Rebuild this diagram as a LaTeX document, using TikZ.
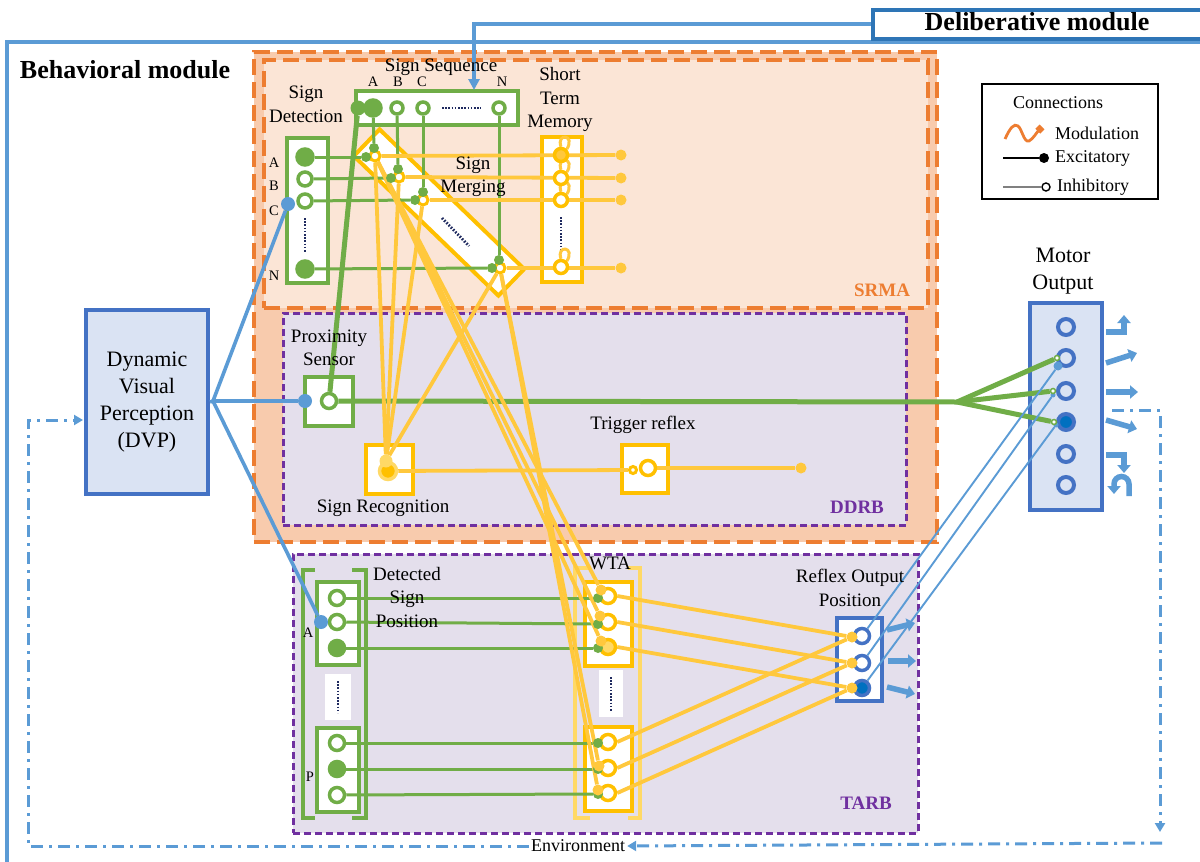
\documentclass[tikz,border=0pt]{standalone}
\usepackage{fontspec}
\setmainfont{Liberation Serif}
\usetikzlibrary{arrows.meta,calc}
\definecolor{gG}{HTML}{70AD47}
\definecolor{yL}{HTML}{FFC83D}
\definecolor{yB}{HTML}{FFC000}
\definecolor{yP}{HTML}{FFD966}
\definecolor{bL}{HTML}{5B9BD5}
\definecolor{bB}{HTML}{4472C4}
\definecolor{bD}{HTML}{2E75B6}
\definecolor{bF}{HTML}{0070C0}
\definecolor{bFill}{HTML}{DAE3F3}
\definecolor{pP}{HTML}{7030A0}
\definecolor{oO}{HTML}{ED7D31}
\definecolor{oF}{HTML}{F8CBAD}
\definecolor{oL}{HTML}{FBE5D6}
\definecolor{lav}{HTML}{E4DFEC}
\definecolor{navyc}{HTML}{1F2A5F}
\pgfdeclarelayer{bg}
\pgfdeclarelayer{mid}
\pgfsetlayers{bg,mid,main}
\tikzset{
  lbl/.style={font=\fontsize{19}{23.5}\selectfont, align=center, inner sep=0},
  biglbl/.style={font=\fontsize{22}{27}\selectfont, align=center, inner sep=0},
  sml/.style={font=\fontsize{14.5}{16}\selectfont, inner sep=0},
  legt/.style={font=\fontsize{18}{20}\selectfont, inner sep=0, anchor=west},
  tagt/.style={font=\fontsize{19}{21}\selectfont\bfseries, inner sep=0},
  modt/.style={font=\fontsize{26}{29}\selectfont\bfseries, inner sep=0},
  area/.style={rectangle, inner sep=0, anchor=north west},
  odash/.style={draw=oO, line width=3.5, dash pattern=on 16pt off 7pt},
  pdash/.style={draw=pP, line width=2.6, dash pattern=on 7pt off 4pt},
  gbox/.style={rectangle, draw=gG, line width=4, fill=white, inner sep=0},
  ybox/.style={rectangle, draw=yB, line width=4, fill=white, inner sep=0},
  bluebox/.style={rectangle, draw=bB, line width=4, fill=white, inner sep=0},
  wbox/.style={rectangle, fill=white, inner sep=0},
  gc/.style={circle, draw=gG, line width=3.5, fill=white, minimum size=14, inner sep=0},
  gcf/.style={gc, fill=gG},
  yc/.style={circle, draw=yB, line width=3.5, fill=white, minimum size=14, inner sep=0},
  ycf/.style={yc, fill=yP},
  bc/.style={circle, draw=bB, line width=3.5, fill=white, minimum size=15, inner sep=0},
  bcf/.style={bc, fill=bF},
  gdot/.style={circle, fill=gG, minimum size=10, inner sep=0},
  ydot/.style={circle, fill=yL, minimum size=11, inner sep=0},
  bdot/.style={circle, fill=bL, minimum size=14, inner sep=0},
  gl/.style={draw=gG, line width=3},
  gthick/.style={draw=gG, line width=5},
  yl/.style={draw=yL, line width=3.8},
  bl/.style={draw=bL, line width=3.6},
  bthin/.style={draw=bL, line width=1.9},
  dd/.style={draw=bL, line width=3, dash pattern=on 12pt off 6pt on 3pt off 6pt},
  dotv/.style={draw=navyc, line width=2.8, dash pattern=on 1.6pt off 1.6pt},
  barrow/.style={draw=bL, line width=5.5, -{Triangle[length=8,width=13]}},
  brk/.style={line width=3.5},
}
\begin{document}
\begin{tikzpicture}[x=1pt,y=-1pt]
\useasboundingbox (0,0) rectangle (1200,862);
\begin{pgfonlayer}{bg}
\fill[white] (0,0) rectangle (1200,862);
\draw[bL, line width=3.5] (1210,42) -- (7,42) -- (7,870);
\node[area, fill=oF, odash, minimum width=683, minimum height=490] (orreg) at (252,50) {};
\node[area, fill=oL, odash, minimum width=664, minimum height=248] (srma) at (262,58) {};
\node[area, fill=lav, pdash, minimum width=623, minimum height=212] (ddrb) at (282,312) {};
\node[area, fill=lav, pdash, minimum width=625, minimum height=279] (tarb) at (292,553) {};
\node[area, draw=bD, line width=3.5, fill=white, minimum width=340, minimum height=29] (delib) at (871,8) {};
\node[draw=bB, line width=4, fill=bFill, minimum width=122, minimum height=184, biglbl] (dvp) at (147,402) {Dynamic\\Visual\\Perception\\(DVP)};
\node[draw=black, line width=2.8, fill=white, minimum width=176, minimum height=115, inner sep=0] (leg) at (1070,141.5) {};
% component boxes
\node[gbox, minimum width=41, minimum height=145] (sd) at (307.5,210.5) {};
\node[gbox, minimum width=162, minimum height=34] (ss) at (437,108) {};
\node[draw=yB, line width=4, fill=white, minimum width=201, minimum height=37, rotate=-44, inner sep=0] (smb) at (439,212.5) {};
\node[ybox, minimum width=40, minimum height=145] (stm) at (562,209.5) {};
\node[gbox, minimum width=48, minimum height=49] (px) at (329,401.5) {};
\node[ybox, minimum width=47, minimum height=49] (sr) at (389.5,469.5) {};
\node[ybox, minimum width=46, minimum height=48] (tr) at (645,469) {};
\node[bluebox, fill=bFill, minimum width=72, minimum height=207] (mo) at (1066,406.5) {};
\node[bluebox, minimum width=45, minimum height=83] (ro) at (859.5,659.5) {};
% brackets
\draw[yP, brk] (590,568) -| (575,818) -- (590,818);
\draw[yP, brk] (628,568) -| (640,818) -- (628,818);
\draw[gG, brk] (315,570) -| (303,818) -- (315,818);
\draw[gG, brk] (352,570) -| (366,818) -- (352,818);
\node[ybox, minimum width=47, minimum height=84] (wt1) at (608.5,624) {};
\node[ybox, minimum width=47, minimum height=84] (wt2) at (608.5,769) {};
\node[wbox, minimum width=24, minimum height=47] (wtd) at (611,693.5) {};
\node[gbox, minimum width=42, minimum height=83] (dp1) at (338,623.5) {};
\node[gbox, minimum width=42, minimum height=84] (dp2) at (338,770) {};
\node[wbox, minimum width=26, minimum height=46] (dpd) at (338,697) {};
% dotted ellipses
\draw[dotv] (305,218) -- (305,253);
\draw[dotv] (442,108) -- (481,108);
\draw[dotv] (442,218) -- (469,246);
\draw[dotv] (561,217) -- (561,252);
\draw[dotv] (611,677) -- (611,712);
\draw[dotv] (338,681) -- (338,713);
\end{pgfonlayer}

% ---------- circles and dots ----------
% sign detection
\node[gcf, minimum size=16] (sdA) at (305,157) {};
\node[gc] (sdB) at (305,179) {};
\node[gc] (sdC) at (305,201) {};
\node[gcf, minimum size=16] (sdN) at (305,269) {};
\node[bdot] (sdb) at (288,204) {};
% sign sequence
\node[gcf, minimum size=16] (ssA) at (373,108) {};
\node[gc, minimum size=12] (ssB) at (397,108) {};
\node[gc, minimum size=12] (ssC) at (423,108) {};
\node[gc, minimum size=12] (ssN) at (499,108) {};
\node[gdot, minimum size=15] (ssL) at (358,108) {};
\coordinate (ssin) at (474,90);
% sign merging
\node[yc, minimum size=10, line width=3] (smA) at (375,156) {};
\node[yc, minimum size=10, line width=3] (smB) at (399,177) {};
\node[yc, minimum size=10, line width=3] (smC) at (423,200) {};
\node[yc, minimum size=10, line width=3] (smN) at (500,268) {};
\node[gdot] (gA1) at (374,148) {};
\node[gdot] (gA2) at (366,157) {};
\node[gdot] (gB1) at (398,169) {};
\node[gdot] (gB2) at (391,178) {};
\node[gdot] (gC1) at (423,192) {};
\node[gdot] (gC2) at (415,200) {};
\node[gdot] (gN1) at (499,260) {};
\node[gdot] (gN2) at (492,268) {};
% short term memory
\node[yc, fill=yL, minimum size=13] (stA) at (561,155) {};
\node[yc, minimum size=13] (stB) at (561,178) {};
\node[yc, minimum size=13] (stC) at (561,200) {};
\node[yc, minimum size=13] (stN) at (561,267) {};
\node[ydot] (yeA) at (621,155) {};
\node[ydot] (yeB) at (621,178) {};
\node[ydot] (yeC) at (621,200) {};
\node[ydot] (yeN) at (621,268) {};
% proximity
\node[gc, minimum size=15] (pxc) at (329,401) {};
\node[bdot] (pxb) at (305,401) {};
\coordinate (dvpj) at (213,401);
\coordinate (fan) at (957,402);
% sign recognition, trigger
\node[circle, fill=yB, draw=yP, line width=3.5, minimum size=17, inner sep=0] (src) at (388,471) {};
\node[ydot, fill=yP, minimum size=13] (srin) at (386,461) {};
\node[yc, minimum size=7, line width=3] (trs) at (633,470) {};
\node[yc, minimum size=15] (trb) at (648,468) {};
\node[ydot] (tre) at (801,468) {};
% WTA
\node[yc, minimum size=15] (wc1) at (608,596) {};
\node[yc, minimum size=15] (wc2) at (608,622) {};
\node[ycf, minimum size=15] (wc3) at (608,647) {};
\node[yc, minimum size=15] (wc4) at (608,742) {};
\node[yc, minimum size=15] (wc5) at (608,768) {};
\node[yc, minimum size=15] (wc6) at (608,793) {};
\node[gdot] (wg1) at (598,598) {};
\node[gdot] (wg2) at (598,624) {};
\node[gdot] (wg3) at (598,648) {};
\node[gdot] (wg4) at (598,743) {};
\node[gdot] (wg5) at (598,769) {};
\node[gdot] (wg6) at (598,794) {};
\node[ydot] (wy1) at (601,590) {};
\node[ydot] (wy2) at (600,616) {};
\node[ydot] (wy3) at (601,641) {};
\node[ydot] (wy5) at (599,766) {};
\node[ydot] (wy6) at (598,790) {};
% detected sign position
\node[gc, minimum size=15] (dc1) at (337,598) {};
\node[gc, minimum size=15] (dc2) at (337,622) {};
\node[gcf, minimum size=15] (dc3) at (337,648) {};
\node[gc, minimum size=15] (dc4) at (337,743) {};
\node[gcf, minimum size=15] (dc5) at (337,769) {};
\node[gc, minimum size=15] (dc6) at (337,795) {};
\node[bdot] (dpb) at (321,622) {};
% reflex output
\node[bc] (rc1) at (862,636) {};
\node[bc] (rc2) at (862,663) {};
\node[bcf] (rc3) at (862,688) {};
\node[ydot] (ry1) at (852,637) {};
\node[ydot] (ry2) at (852,663) {};
\node[ydot] (ry3) at (852,688) {};
% motor output
\node[bc, fill=bFill, minimum size=16, line width=4] (mc1) at (1066,327) {};
\node[bc, fill=bFill, minimum size=16, line width=4] (mc2) at (1066,358) {};
\node[bc, fill=bFill, minimum size=16, line width=4] (mc3) at (1066,391) {};
\node[bcf, minimum size=16, line width=4] (mc4) at (1066,422) {};
\node[bc, fill=bFill, minimum size=16, line width=4] (mc5) at (1066,454) {};
\node[bc, fill=bFill, minimum size=16, line width=4] (mc6) at (1066,485) {};
\node[bdot, minimum size=9] (mb2) at (1058,366) {};
\node[bdot, minimum size=5] (mb3) at (1053,395) {};
\node[bdot, minimum size=5] (mb4) at (1056,425) {};
\node[circle, draw=gG, fill=white, line width=1.5, minimum size=5, inner sep=0] (mg2) at (1057,358) {};
\node[circle, draw=gG, fill=white, line width=1.5, minimum size=5, inner sep=0] (mg3) at (1053,391) {};
\node[circle, draw=gG, fill=white, line width=1.5, minimum size=5, inner sep=0] (mg4) at (1054,422) {};

% ---------- connectors ----------
\begin{pgfonlayer}{mid}
\draw[bl] (dvp.east) -- (dvpj);
\draw[bl] (dvpj) -- (sdb);
\draw[bl] (dvpj) -- (pxb);
\draw[bl] (dvpj) -- (dpb);
\draw[bl, -{Triangle[length=11,width=11]}] (delib.west) -| (ssin);
\draw[gl] (sdA) -- (gA2);
\draw[gl] (sdB) -- (gB2);
\draw[gl] (sdC) -- (gC2);
\draw[gl] (sdN) -- (gN2);
\draw[gl] (ssA) -- (gA1);
\draw[gl] (ssB) -- (gB1);
\draw[gl] (ssC) -- (gC1);
\draw[gl] (ssN) -- (gN1);
\draw[gthick] (ssL) -- (pxc);
\draw[gthick] (pxc) -- (fan);
\draw[gthick] (fan) -- (mg2);
\draw[gthick] (fan) -- (mg3);
\draw[gthick] (fan) -- (mg4);
\draw[gl] (dc1) -- (wg1);
\draw[gl] (dc2) -- (wg2);
\draw[gl] (dc3) -- (wg3);
\draw[gl] (dc4) -- (wg4);
\draw[gl] (dc5) -- (wg5);
\draw[gl] (dc6) -- (wg6);
\draw[yl] (smA) -- (yeA);
\draw[yl] (smB) -- (yeB);
\draw[yl] (smC) -- (yeC);
\draw[yl] (smN) -- (yeN);
\foreach \s in {stA,stB,stC,stN}
  \draw[yl, line width=3] (\s.north) .. controls +(-5,-14) and +(9,-15) .. (\s.north east);
\draw[yl] (smA) -- (srin);
\draw[yl] (smB) -- (srin);
\draw[yl] (smC) -- (srin);
\draw[yl] (smN) -- (srin);
\draw[yl] (smA) -- (wy1);
\draw[yl] (smA) -- (wy2);
\draw[yl] (smA) -- (wy3);
\draw[yl] (smN) -- (wy5);
\draw[yl] (smN) -- (wy6);
\draw[yl] (src) -- (trs);
\draw[yl] (trb) -- (tre);
\draw[yl] (wc1.east) -- (ry1);
\draw[yl] (wc2.east) -- (ry2);
\draw[yl] (wc3.east) -- (ry3);
\draw[yl] (wc4.east) -- (ry1);
\draw[yl] (wc5.east) -- (ry2);
\draw[yl] (wc6.east) -- (ry3);
\draw[bthin] (rc1) -- (mb2);
\draw[bthin] (rc2) -- (mb3);
\draw[bthin] (rc3) -- (mb4);
\end{pgfonlayer}

% environment loop
\node[font=\fontsize{18}{20}\selectfont, inner sep=2] (env) at (578,846) {Environment};
\coordinate (dd1) at (1112,410);
\coordinate (dvpin) at (83,420);
\draw[dd, -{Triangle[length=9,width=10]}] (dd1) -| (1160,832);
\draw[dd, -{Triangle[length=9,width=10]}] (1162,843) -- (env.east);
\draw[dd, -{Triangle[length=9,width=10]}] (env.west) -| (28,420) -- (dvpin);

% motor block arrows
\draw[barrow] (1106,332) -| (1124,315);
\draw[barrow] (1106,363) -- (1137,353);
\draw[barrow] (1106,392) -- (1138,392);
\draw[barrow] (1106,420) -- (1137,429);
\draw[barrow] (1106,455) -| (1124,473);
\draw[barrow] (1129,496) -- (1129,484) arc[start angle=0, end angle=-180, radius=7.5] -- (1114,494);
\draw[barrow] (887,630) -- (915,623);
\draw[barrow] (888,661) -- (916,661);
\draw[barrow] (887,687) -- (915,694);

% legend
\node[legt, anchor=center] (legc) at (1058,103) {Connections};
\draw[oO, line width=2.8, -{Square[length=6,width=7]}] (1005,139) .. controls (1010,128) and (1014,123) .. (1018,126) .. controls (1022,129) and (1024,143) .. (1029,141) .. controls (1033,139) and (1037,132) .. (1042,127);
\node[legt] (legm) at (1055,133) {Modulation};
\node[circle, fill=black, minimum size=10, inner sep=0] (lege) at (1044,158) {};
\coordinate (legea) at (1003,158);
\draw[black, line width=1.8] (legea) -- (lege);
\node[legt] (legx) at (1055,158) {Excitatory};
\node[circle, draw=black, fill=white, line width=1.4, minimum size=8, inner sep=0] (legi) at (1046,187) {};
\coordinate (legia) at (1003,187);
\draw[gray, line width=1.4] (legia) -- (legi);
\node[legt] (legh) at (1057,187) {Inhibitory};

% labels
\node[modt] (behl) at (125,70) {Behavioral module};
\node[modt] (dell) at (1037,22) {Deliberative module};
\node[tagt, text=oO] (srmat) at (882,290) {SRMA};
\node[tagt, text=pP] (ddrbt) at (857,507) {DDRB};
\node[tagt, text=pP] (tarbt) at (866,803) {TARB};
\node[lbl] (sdl) at (306,104.5) {Sign\\Detection};
\node[lbl] (ssl) at (441,67) {Sign Sequence};
\node[lbl] (sml) at (473,177) {Sign\\Merging};
\node[lbl] (stml) at (560,99.5) {Short\\Term\\Memory};
\node[lbl] (pxl) at (329,348) {Proximity\\Sensor};
\node[lbl] (srl) at (383,508) {Sign Recognition};
\node[lbl] (trl) at (643,425) {Trigger reflex};
\node[lbl] (wtal) at (610,563) {WTA};
\node[lbl] (dpl) at (407,597) {Detected\\Sign\\Position};
\node[lbl] (rol) at (850,588) {Reflex Output\\Position};
\node[biglbl] (mol) at (1063,271.5) {Motor\\Output};
\node[sml] (lA) at (274,163) {A};
\node[sml] (lB) at (274,186) {B};
\node[sml] (lC) at (274,211) {C};
\node[sml] (lN) at (274,276) {N};
\node[sml] (qA) at (373,82) {A};
\node[sml] (qB) at (398,82) {B};
\node[sml] (qC) at (422,82) {C};
\node[sml] (qN) at (502,82) {N};
\node[sml] (pA) at (308,633) {A};
\node[sml] (pP) at (310,777) {P};
\end{tikzpicture}
\end{document}
